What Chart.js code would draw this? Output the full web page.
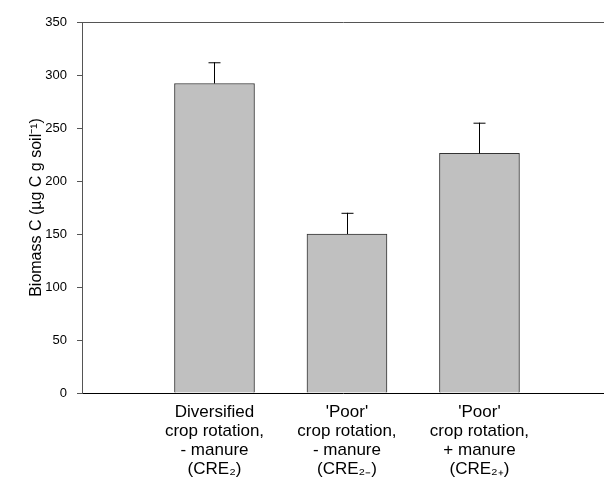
<!DOCTYPE html>
<html>
<head>
<meta charset="utf-8">
<script src="https://cdn.jsdelivr.net/npm/chart.js@4"></script>
<style>
  html, body { margin: 0; padding: 0; background: #fff; }
  #wrap { width: 604px; height: 479px; }
</style>
</head>
<body>
<div id="wrap"><canvas id="grafico"></canvas></div>
<script>
// dados
const categorias = [
  ['Diversified', 'crop rotation,', '- manure', '(CRE\u2082)'],
  ["'Poor'", 'crop rotation,', '- manure', '(CRE\u2082\u208B)'],
  ["'Poor'", 'crop rotation,', '+ manure', '(CRE\u2082\u208A)']
];
const posicoes = [1, 2, 3];
const biomassa = [292, 150, 226];
const erroSup = [312, 170, 255];
const ticksY = [0, 50, 100, 150, 200, 250, 300, 350];

const ctx = document.getElementById('grafico');

// barras de erro (so para cima)
const barrasErro = {
  id: 'barrasErro',
  afterDatasetsDraw(chart) {
    const meta = chart.getDatasetMeta(0);
    const y = chart.scales.y;
    const c = chart.ctx;
    c.save();
    c.strokeStyle = '#000';
    c.lineWidth = 1;
    meta.data.forEach((bar, i) => {
      const yTopo = y.getPixelForValue(erroSup[i]);
      const x = Math.round(bar.x) + 0.5;
      c.beginPath();
      c.moveTo(x, bar.y);
      c.lineTo(x, yTopo);
      c.moveTo(x - 6, yTopo + 0.5);
      c.lineTo(x + 6, yTopo + 0.5);
      c.stroke();
    });
    c.restore();
  }
};

new Chart(ctx, {
  type: 'bar',
  data: {
    datasets: [{
      data: posicoes.map((p, i) => ({ x: p, y: biomassa[i] })),
      backgroundColor: '#c0c0c0',
      borderColor: '#333',
      borderWidth: 1,
      barThickness: 80
    }]
  },
  plugins: [barrasErro],
  options: {
    responsive: true,
    maintainAspectRatio: false,
    animation: false,
    layout: { padding: { left: 27, top: 22, right: 0, bottom: 0 } },
    plugins: { legend: { display: false }, tooltip: { enabled: false } },
    scales: {
      x: {
        type: 'linear',
        min: 0,
        max: 3.94,
        offset: false,
        grid: { display: false, drawTicks: false },
        border: { color: '#000', width: 1 },
        afterBuildTicks: (s) => { s.ticks = posicoes.map(v => ({ value: v })); },
        afterFit: (s) => { s.height = 86; },
        ticks: {
          autoSkip: false,
          maxRotation: 0,
          padding: 10,
          color: '#000',
          font: { family: 'Liberation Sans', size: 17, lineHeight: 1.12 },
          callback: (v) => categorias[posicoes.indexOf(v)] || ''
        }
      },
      y: {
        min: 0,
        max: 350,
        afterBuildTicks: (s) => { s.ticks = ticksY.map(v => ({ value: v })); },
        afterFit: (s) => { s.width = 55; },
        border: { color: '#555', width: 1 },
        grid: {
          color: (c) => c.tick && c.tick.value === 350 ? '#555' : 'rgba(0,0,0,0)',
          tickColor: '#555',
          tickLength: 5
        },
        ticks: {
          padding: 10,
          color: '#000',
          font: { family: 'Liberation Sans', size: 13 }
        },
        title: {
          display: true,
          text: 'Biomass C (\u00B5g C g soil\u207B\u00B9)',
          color: '#000',
          padding: 0,
          font: { family: 'Liberation Sans', size: 16 }
        }
      }
    }
  }
});
</script>
</body>
</html>
